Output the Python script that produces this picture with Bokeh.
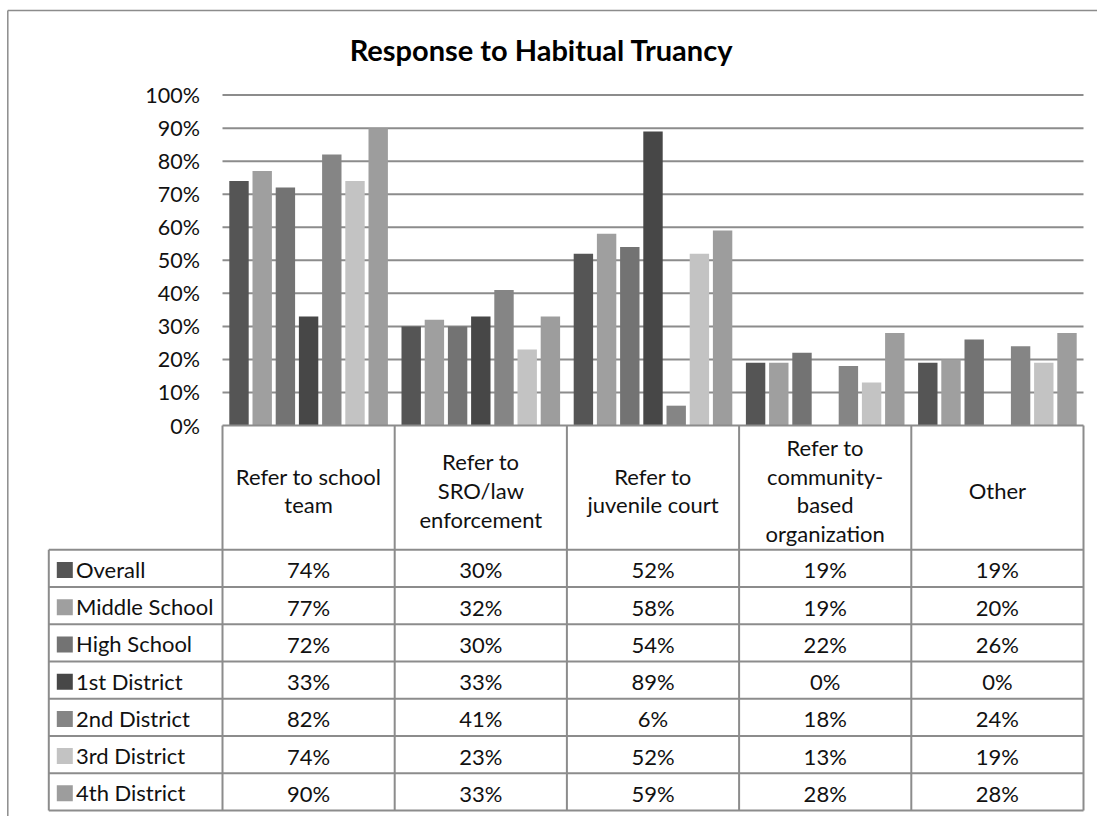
from bokeh.plotting import figure
from bokeh.models import Range1d
from bokeh.core.properties import value
from bokeh.embed import file_html
from bokeh.resources import INLINE

# ---- data ----
categories = [
    "Refer to school team",
    "Refer to SRO/law enforcement",
    "Refer to juvenile court",
    "Refer to community-based organization",
    "Other",
]
header_lines = [
    ["Refer to school", "team"],
    ["Refer to", "SRO/law", "enforcement"],
    ["Refer to", "juvenile court"],
    ["Refer to", "community-", "based", "organization"],
    ["Other"],
]
series_names = ["Overall", "Middle School", "High School", "1st District",
                "2nd District", "3rd District", "4th District"]
overall = [74, 30, 52, 19, 19]
middle_school = [77, 32, 58, 19, 20]
high_school = [72, 30, 54, 22, 26]
district_1 = [33, 33, 89, 0, 0]
district_2 = [82, 41, 6, 18, 24]
district_3 = [74, 23, 52, 13, 19]
district_4 = [90, 33, 59, 28, 28]
series_values = [overall, middle_school, high_school, district_1,
                 district_2, district_3, district_4]
series_colors = ["#555555", "#9f9f9f", "#737373", "#474747",
                 "#858585", "#c3c3c3", "#9d9d9d"]
y_ticks = [0, 10, 20, 30, 40, 50, 60, 70, 80, 90, 100]
y_tick_labels = ["0%", "10%", "20%", "30%", "40%", "50%", "60%", "70%",
                 "80%", "90%", "100%"]
title = "Response to Habitual Truancy"

# ---- layout (pixel geometry of the page, turned into data units) ----
W, H = 1097, 816
X0_PX, Y0_PX = 222.0, 425.0          # left edge of plot area / 0% line
PX_PER_CAT = 172.2                   # width of one category column
PX_PER_PCT = 3.304                   # pixels per percentage point


def dx(px):
    return (px - X0_PX) / PX_PER_CAT


def dy(py):
    return (Y0_PX - py) / PX_PER_PCT


FONT = value("Lato")
TEXT_SIZE = "22px"
TEXT_COLOR = "#111111"
LINE_COLOR = "#8c8c8c"
n_cat = len(categories)
n_ser = len(series_names)

p = figure(width=W, height=H, output_backend="svg", toolbar_location=None,
           x_range=Range1d(dx(0), dx(W)), y_range=Range1d(dy(H), dy(0)),
           x_axis_location=None, y_axis_location=None,
           min_border=0, min_border_left=0, min_border_right=0,
           min_border_top=0, min_border_bottom=0, outline_line_color=None)
p.xgrid.visible = False
p.ygrid.visible = False
p.background_fill_color = "white"
p.border_fill_color = "white"

# outer chart frame (top and left edges)
frame_x = dx(7.3)
frame_top = dy(10)
p.line([frame_x, frame_x], [dy(H + 5), frame_top], line_color=LINE_COLOR, line_width=1.5)
p.line([frame_x, dx(W + 5)], [frame_top, frame_top], line_color=LINE_COLOR, line_width=1.5)

# horizontal gridlines
grid_y = [t for t in y_ticks if t > 0]
p.segment(x0=[0] * len(grid_y), x1=[n_cat] * len(grid_y), y0=grid_y, y1=grid_y,
          line_color=LINE_COLOR, line_width=2)

# y tick labels
p.text(x=[dx(199.5)] * len(y_ticks), y=y_ticks, text=y_tick_labels,
       text_font=FONT, text_font_size="21.5px", text_align="right",
       text_baseline="middle", text_color=TEXT_COLOR)

# clustered bars
pitch = 23.2 / PX_PER_CAT
bar_w = 19.4 / PX_PER_CAT
for i, (name, vals, col) in enumerate(zip(series_names, series_values, series_colors)):
    xs = [c + 0.5 + (i - (n_ser - 1) / 2) * pitch for c in range(n_cat)]
    p.vbar(x=xs, top=vals, bottom=0, width=bar_w, fill_color=col, line_color=None)

# title
p.text(x=[dx(541)], y=[dy(49)], text=[title], text_font=FONT,
       text_font_size="29px", text_font_style="bold", text_align="center",
       text_baseline="middle", text_color="#000000")

# ---- data table under the chart ----
header_bottom_px = 549.3
row_h_px = 37.24
table_bottom_px = header_bottom_px + row_h_px * n_ser
legend_left = dx(48.3)

# column borders
col_x = list(range(n_cat + 1))
p.segment(x0=col_x, x1=col_x, y0=[0] * len(col_x), y1=[dy(table_bottom_px)] * len(col_x),
          line_color=LINE_COLOR, line_width=2)
# top edge of header cells
p.segment(x0=[0], x1=[n_cat], y0=[0], y1=[0], line_color=LINE_COLOR, line_width=2)
# row borders
row_lines = [dy(header_bottom_px + k * row_h_px) for k in range(n_ser + 1)]
p.segment(x0=[legend_left] * len(row_lines), x1=[n_cat] * len(row_lines),
          y0=row_lines, y1=row_lines, line_color=LINE_COLOR, line_width=2)
# legend column left border
p.segment(x0=[legend_left], x1=[legend_left], y0=[dy(header_bottom_px)],
          y1=[dy(table_bottom_px)], line_color=LINE_COLOR, line_width=2)

# header labels (multi-line, centred)
line_step_px = 28.8
header_center_px = 490.0
hx, hy, ht = [], [], []
for c, lines in enumerate(header_lines):
    n = len(lines)
    for k, ln in enumerate(lines):
        hx.append(c + 0.5)
        hy.append(dy(header_center_px + (k - (n - 1) / 2) * line_step_px))
        ht.append(ln)
p.text(x=hx, y=hy, text=ht, text_font=FONT, text_font_size=TEXT_SIZE,
       text_align="center", text_baseline="middle", text_color=TEXT_COLOR)

# value cells
vx, vy, vt = [], [], []
for i, vals in enumerate(series_values):
    yc = dy(header_bottom_px + (i + 0.5) * row_h_px + 1.5)
    for c, v in enumerate(vals):
        vx.append(c + 0.5)
        vy.append(yc)
        vt.append(f"{v}%")
p.text(x=vx, y=vy, text=vt, text_font=FONT, text_font_size=TEXT_SIZE,
       text_align="center", text_baseline="middle", text_color=TEXT_COLOR)

# legend keys and series names
row_centers = [dy(header_bottom_px + (i + 0.5) * row_h_px) for i in range(n_ser)]
p.scatter(x=[dx(64.3)] * n_ser, y=[yc - 1.5 / PX_PER_PCT for yc in row_centers],
          marker="square", size=16, fill_color=series_colors, line_color=None)
p.text(x=[dx(75.5)] * n_ser, y=[yc - 1.0 / PX_PER_PCT for yc in row_centers],
       text=series_names, text_font=FONT, text_font_size=TEXT_SIZE,
       text_align="left", text_baseline="middle", text_color=TEXT_COLOR)

open("out.html", "w").write(file_html(p, INLINE))
